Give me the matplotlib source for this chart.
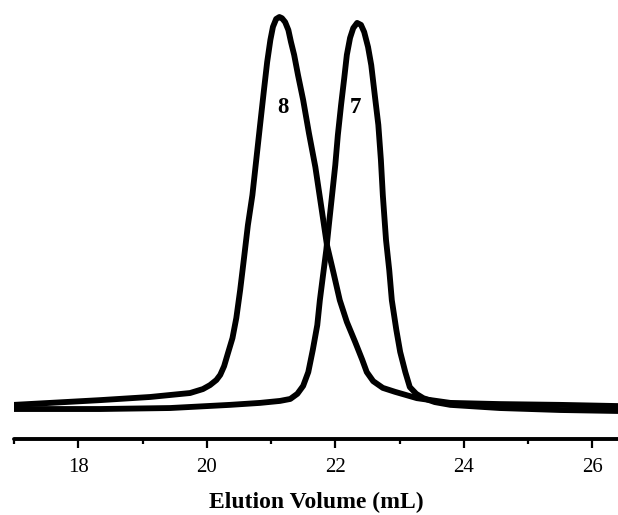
import matplotlib
matplotlib.use("Agg")
import matplotlib.pyplot as plt
from matplotlib.ticker import MultipleLocator

# Elution volume (mL) and detector signal (arbitrary units, % of max)
vol_8 = [17.0, 17.56, 18.34, 19.12, 19.43, 19.74, 19.94, 20.05, 20.15, 20.21,
         20.27, 20.33, 20.40, 20.46, 20.52, 20.58, 20.64, 20.71, 20.77, 20.83,
         20.89, 20.94, 20.99, 21.03, 21.08, 21.13, 21.17, 21.22, 21.27, 21.31,
         21.36, 21.42, 21.50, 21.59, 21.69, 21.79, 21.87, 21.97, 22.07, 22.18,
         22.31, 22.42, 22.49, 22.59, 22.74, 22.93, 23.27, 23.79, 24.56, 25.50,
         26.40]
sig_8 = [1.3, 1.8, 2.5, 3.3, 3.8, 4.3, 5.3, 6.3, 7.6, 8.9,
         11.1, 14.4, 18.2, 23.3, 30.4, 38.5, 46.8, 54.4, 63.3, 72.2,
         81.0, 88.1, 93.7, 97.0, 99.0, 99.5, 99.2, 98.2, 96.2, 93.2,
         89.9, 84.8, 78.5, 70.1, 61.5, 50.6, 41.8, 34.9, 27.8, 22.3,
         17.2, 12.7, 9.6, 7.3, 5.6, 4.6, 3.0, 1.8, 1.5, 1.3,
         1.0]

vol_7 = [17.0, 18.34, 19.43, 20.36, 20.83, 21.14, 21.30, 21.41, 21.50, 21.58,
         21.65, 21.72, 21.76, 21.81, 21.86, 21.90, 21.95, 22.00, 22.04, 22.09,
         22.14, 22.18, 22.23, 22.28, 22.34, 22.40, 22.45, 22.51, 22.56, 22.62,
         22.67, 22.71, 22.74, 22.79, 22.84, 22.88, 22.95, 23.01, 23.09, 23.16,
         23.26, 23.37, 23.55, 23.79, 24.56, 25.50, 26.40]
sig_7 = [0.25, 0.25, 0.5, 1.3, 1.8, 2.3, 2.8, 4.1, 6.1, 9.6,
         15.2, 21.5, 27.8, 34.2, 40.5, 46.8, 54.4, 62.0, 69.6, 77.2,
         84.1, 89.9, 94.2, 96.7, 98.0, 97.5, 95.7, 91.9, 87.3, 79.0,
         72.2, 63.3, 54.4, 43.0, 35.4, 27.8, 20.3, 14.7, 9.6, 5.8,
         4.1, 3.0, 2.0, 1.3, 0.5, 0.0, -0.25]

labels = ["8", "7"]
label_x = [21.18, 22.32]
label_y = [76.5, 76.5]

xticks = [18, 20, 22, 24, 26]

fig = plt.figure(figsize=(6.18, 5.15), dpi=100)
ax = fig.add_axes([14 / 618, 1 - 439 / 515, 1 - 14 / 618, 439 / 515])

serif = ["Liberation Serif", "DejaVu Serif"]

ax.plot(vol_8, sig_8, color="black", lw=4.2, solid_joinstyle="round", solid_capstyle="round")
ax.plot(vol_7, sig_7, color="black", lw=4.2, solid_joinstyle="round", solid_capstyle="round")

for t, x, y in zip(labels, label_x, label_y):
    ax.text(x, y, t, ha="center", va="center", fontsize=16.5, fontweight="bold", family=serif)

ax.set_xlim(17.0, 26.4)
ax.set_ylim(-7.34, 103.8)

for s in ["top", "right", "left"]:
    ax.spines[s].set_visible(False)
ax.spines["bottom"].set_linewidth(2.8)
ax.spines["bottom"].set_capstyle("round")

ax.set_yticks([])
ax.set_xticks(xticks)
ax.set_xticklabels([str(v) for v in xticks], family=serif, fontsize=15)
ax.xaxis.set_minor_locator(MultipleLocator(1))
ax.tick_params(axis="x", which="major", direction="out", length=6.5, width=1.6, pad=7)
ax.tick_params(axis="x", which="minor", direction="out", length=3.6, width=1.6)

ax.set_xlabel("Elution Volume (mL)", family=serif, fontsize=17, fontweight="bold", labelpad=11)

fig.savefig("out.png", dpi=100)
